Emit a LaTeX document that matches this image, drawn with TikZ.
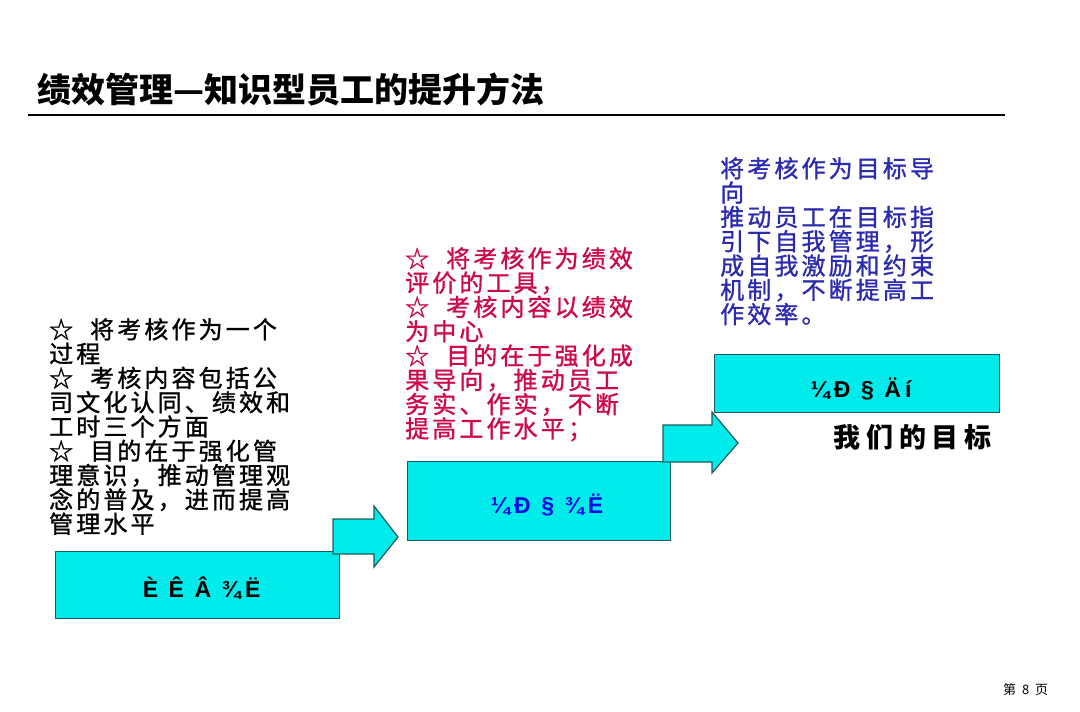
\documentclass[tikz,border=0pt]{standalone}
\usepackage{fontspec}
\usetikzlibrary{positioning}
\setmainfont{Liberation Sans}
\newfontfamily\cjk[LetterSpace=13, FakeBold=1.2]{Noto Sans CJK SC}
\newfontfamily\cjkmeta[LetterSpace=22]{Noto Sans CJK SC}
\newfontfamily\cjktitulo{Noto Sans CJK SC}
\newfontfamily\rotulo[LetterSpace=18]{Liberation Sans}
\definecolor{cian}{HTML}{00ECEC}
\definecolor{borde}{HTML}{1E5A5A}
\definecolor{rojo}{HTML}{CC0A4A}
\definecolor{azuloscuro}{HTML}{2B2BB0}
\definecolor{azul}{HTML}{0A0AE0}

\tikzset{
  caja/.style={draw=borde, line width=1.2pt, fill=cian, inner sep=0pt, anchor=north west},
  flecha/.style={draw=borde, line width=1.2pt, fill=cian, line join=miter},
  texto/.style={anchor=north west, align=left, inner sep=0pt, font=\cjk\fontsize{24}{24.3}\selectfont},
  etiqueta/.style={font=\rotulo\bfseries\fontsize{23}{25}\selectfont}
}

\begin{document}
\begin{tikzpicture}[x=1pt, y=-1pt]
  \useasboundingbox (0,0) rectangle (1080,712);
  % titulo
  \node[anchor=west, inner sep=0pt, font=\cjktitulo\bfseries\fontsize{34}{36}\selectfont] (titulo) at (37,89) {绩效管理—知识型员工的提升方法};
  \draw[line width=2.6pt] (28,115) -- (1005,115);

  % escalones
  \node[caja, minimum width=284pt, minimum height=67pt] (fase1) at (55,551) {};
  \node[caja, minimum width=263pt, minimum height=79pt] (fase2) at (407,461) {};
  \node[caja, minimum width=285pt, minimum height=58pt] (fase3) at (714,354) {};
  \node[etiqueta] (rot1) at ([xshift=4pt,yshift=-3pt]fase1.center) {È~Ê~Â~¾Ë};
  \node[etiqueta, text=azul] (rot2) at ([xshift=8pt,yshift=-4pt]fase2.center) {¼Ð~§~¾Ë};
  \node[etiqueta] (rot3) at ([xshift=4pt,yshift=-5pt]fase3.center) {¼Ð~§~Äí};

  \draw[flecha] (333,519) -- (374,519) -- (374,506) -- (398,537) -- (374,567) -- (374,554) -- (333,554) -- cycle;
  \draw[flecha] (663,425) -- (712,425) -- (712,412) -- (738,443) -- (712,473) -- (712,462) -- (663,462) -- cycle;

  % textos
  \node[texto] (txt1) at (49,318) {☆\ \ 将考核作为一个\\过程\\☆\ \ 考核内容包括公\\司文化认同、绩效和\\工时三个方面\\☆\ \ 目的在于强化管\\理意识，推动管理观\\念的普及，进而提高\\管理水平};
  \node[texto, text=rojo] (txt2) at (405,247) {☆\ \ 将考核作为绩效\\评价的工具，\\☆\ \ 考核内容以绩效\\为中心\\☆\ \ 目的在于强化成\\果导向，推动员工\\务实、作实，不断\\提高工作水平；};
  \node[texto, text=azuloscuro] (txt3) at (720,157) {将考核作为目标导\\向\\推动员工在目标指\\引下自我管理，形\\成自我激励和约束\\机制，不断提高工\\作效率。};

  \node[anchor=west, inner sep=0pt, font=\cjkmeta\bfseries\fontsize{27}{30}\selectfont] (meta) at (833,437) {我们的目标};
  \node[anchor=west, inner sep=0pt, font=\cjktitulo\fontsize{13}{15}\selectfont] (pagina) at (1003,690) {第\ \ 8\ \ 页};
\end{tikzpicture}
\end{document}
